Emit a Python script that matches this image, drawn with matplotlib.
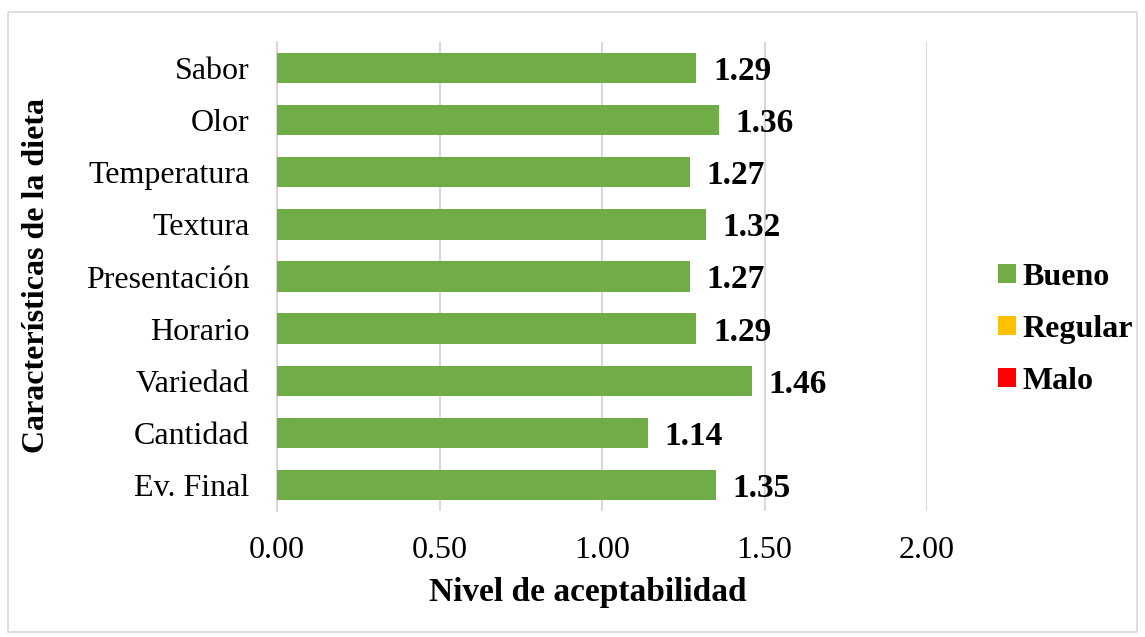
import matplotlib
matplotlib.use("Agg")
import matplotlib.pyplot as plt
from matplotlib.patches import Patch, Rectangle

categories = ["Sabor", "Olor", "Temperatura", "Textura", "Presentación",
              "Horario", "Variedad", "Cantidad", "Ev. Final"]
bueno = [1.29, 1.36, 1.27, 1.32, 1.27, 1.29, 1.46, 1.14, 1.35]
series_names = ["Bueno", "Regular", "Malo"]
series_colors = ["#70ad47", "#ffc000", "#ff0000"]
x_ticks = [0.0, 0.5, 1.0, 1.5, 2.0]
x_label = "Nivel de aceptabilidad"
y_label = "Características de la dieta"

plt.rcParams['font.family'] = ['Liberation Serif', 'DejaVu Serif']
W, H = 1145, 637
fig = plt.figure(figsize=(W / 100, H / 100), dpi=100)
ax = fig.add_axes([277 / W, 1 - 511 / H, (927 - 277) / W, (511 - 42) / H])

ypos = list(range(len(categories)))
bars = ax.barh(ypos, bueno, height=0.58, color=series_colors[0], zorder=3)
for y, v in zip(ypos, bueno):
    ax.annotate(f"{v:.2f}", xy=(v, y), xytext=(12, -2.5), textcoords="offset points",
                ha="left", va="center", fontsize=24, fontweight="bold", color="black")

ax.set_ylim(len(categories) - 0.5, -0.5)
ax.set_yticks(ypos)
ax.set_yticklabels(categories, fontsize=23)
ax.set_xlim(0, 2.0)
ax.set_xticks(x_ticks)
ax.set_xticklabels([f"{t:.2f}" for t in x_ticks], fontsize=23)
ax.tick_params(axis="both", length=0)
ax.tick_params(axis="y", pad=20)
ax.tick_params(axis="x", pad=18)
ax.grid(axis="x", color="#d9d9d9", linewidth=1.5, zorder=0)
for s in ["top", "right", "bottom"]:
    ax.spines[s].set_visible(False)
ax.spines["left"].set_color("#d9d9d9")
ax.spines["left"].set_linewidth(1.5)
ax.spines["left"].set_zorder(1)

ax.set_xlabel(x_label, fontsize=24, fontweight="bold", labelpad=10)
ax.xaxis.set_label_coords((588 - 277) / (927 - 277), -0.13)
ax.xaxis.label.set_va("center")
ax.xaxis.set_label_coords((588 - 277) / (927 - 277), -(592 - 511) / (511 - 42))
fig.text(37 / W, 1 - 276 / H, y_label, rotation=90, ha="center", va="center",
         fontsize=23, fontweight="bold")

handles = [Patch(facecolor=c, edgecolor="none") for c in series_colors]
leg = fig.legend(handles, series_names, loc="center left",
                 bbox_to_anchor=(998 / W, 1 - 329 / H), frameon=False,
                 prop={"size": 23, "weight": "bold"}, handlelength=0.55,
                 handleheight=0.55, handletextpad=0.22, labelspacing=0.72,
                 borderpad=0, borderaxespad=0)

fig.patches.append(Rectangle((8 / W, 1 - 632 / H), (1137 - 8) / W, (632 - 12) / H,
                             transform=fig.transFigure, fill=False,
                             edgecolor="#d9d9d9", linewidth=1.2))

fig.savefig("out.png", dpi=100)
